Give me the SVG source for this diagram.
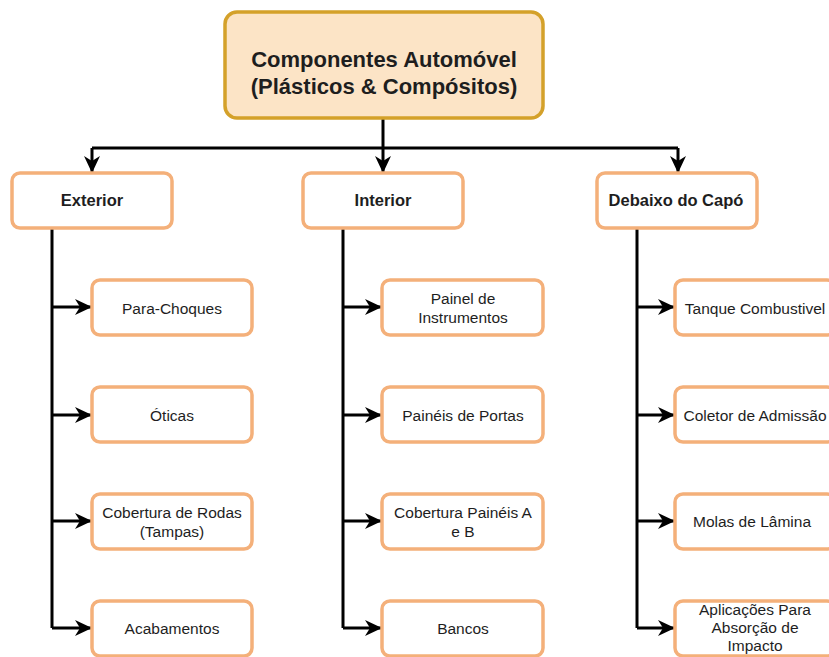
<svg xmlns="http://www.w3.org/2000/svg" width="829" height="657" viewBox="0 0 829 657">
<defs>
<marker id="arr" markerUnits="userSpaceOnUse" markerWidth="20" markerHeight="20" refX="16" refY="8" orient="auto">
<path d="M0,0 L17,8 L0,16 L5,8 Z" fill="#000"/>
</marker>
<style>
.root{fill:#fce4c6;stroke:#d4a12a;stroke-width:3.5}
.box{fill:#fff;stroke:#f4b07a;stroke-width:3.5}
.t{font-family:"Liberation Sans",Arial,sans-serif;fill:#1e1e1e;text-anchor:middle}
.rt{font-size:22px;font-weight:bold}
.l1{font-size:16.5px;font-weight:bold}
.c{font-size:15.5px}
.con{fill:none;stroke:#000;stroke-width:3}
</style>
</defs>
<rect width="829" height="657" fill="#fff"/>
<g id="connectors">
<path class="con" d="M383,118 V148"/>
<path class="con" d="M92,148 H678"/>
<path class="con" d="M92,148 V172" marker-end="url(#arr)"/>
<path class="con" d="M383,148 V172" marker-end="url(#arr)"/>
<path class="con" d="M678,148 V172" marker-end="url(#arr)"/>
<path class="con" d="M52,228 V628"/>
<path class="con" d="M52,307 H91" marker-end="url(#arr)"/>
<path class="con" d="M52,415 H91" marker-end="url(#arr)"/>
<path class="con" d="M52,521 H91" marker-end="url(#arr)"/>
<path class="con" d="M52,628 H91" marker-end="url(#arr)"/>
<path class="con" d="M343,228 V628"/>
<path class="con" d="M343,307 H381" marker-end="url(#arr)"/>
<path class="con" d="M343,415 H381" marker-end="url(#arr)"/>
<path class="con" d="M343,521 H381" marker-end="url(#arr)"/>
<path class="con" d="M343,628 H381" marker-end="url(#arr)"/>
<path class="con" d="M637,228 V628"/>
<path class="con" d="M637,307 H674" marker-end="url(#arr)"/>
<path class="con" d="M637,415 H674" marker-end="url(#arr)"/>
<path class="con" d="M637,521 H674" marker-end="url(#arr)"/>
<path class="con" d="M637,628 H674" marker-end="url(#arr)"/>
</g>
<g id="root">
<rect class="root" x="225" y="12" width="318" height="106" rx="12"/>
<text class="t rt" x="384" y="67">Componentes Automóvel</text>
<text class="t rt" x="384" y="94">(Plásticos &amp; Compósitos)</text>
</g>
<g id="exterior">
<rect class="box" x="12" y="173" width="160" height="55" rx="8"/>
<text class="t l1" x="92" y="206">Exterior</text>
</g>
<g id="interior">
<rect class="box" x="303" y="173" width="160" height="55" rx="8"/>
<text class="t l1" x="383" y="206">Interior</text>
</g>
<g id="debaixo">
<rect class="box" x="597" y="173" width="160" height="55" rx="8"/>
<text class="t l1" x="676" y="206">Debaixo do Capó</text>
</g>
<g id="parachoques">
<rect class="box" x="92" y="280" width="160" height="55" rx="8"/>
<text class="t c" x="172" y="314">Para-Choques</text>
</g>
<g id="oticas">
<rect class="box" x="92" y="387" width="160" height="55" rx="8"/>
<text class="t c" x="172" y="421">Óticas</text>
</g>
<g id="cobertura-rodas">
<rect class="box" x="92" y="494" width="160" height="55" rx="8"/>
<text class="t c" x="172" y="518">Cobertura de Rodas</text>
<text class="t c" x="172" y="537">(Tampas)</text>
</g>
<g id="acabamentos">
<rect class="box" x="92" y="601" width="160" height="55" rx="8"/>
<text class="t c" x="172" y="634">Acabamentos</text>
</g>
<g id="painel">
<rect class="box" x="382" y="280" width="161" height="55" rx="8"/>
<text class="t c" x="463" y="304">Painel de</text>
<text class="t c" x="463" y="323">Instrumentos</text>
</g>
<g id="paineis-portas">
<rect class="box" x="382" y="387" width="161" height="55" rx="8"/>
<text class="t c" x="463" y="421">Painéis de Portas</text>
</g>
<g id="cobertura-paineis">
<rect class="box" x="382" y="494" width="161" height="55" rx="8"/>
<text class="t c" x="463" y="518">Cobertura Painéis A</text>
<text class="t c" x="463" y="537">e B</text>
</g>
<g id="bancos">
<rect class="box" x="382" y="601" width="161" height="55" rx="8"/>
<text class="t c" x="463" y="634">Bancos</text>
</g>
<g id="tanque">
<rect class="box" x="675" y="280" width="160" height="55" rx="8"/>
<text class="t c" x="755" y="314">Tanque Combustivel</text>
</g>
<g id="coletor">
<rect class="box" x="675" y="387" width="160" height="55" rx="8"/>
<text class="t c" x="755" y="421">Coletor de Admissão</text>
</g>
<g id="molas">
<rect class="box" x="675" y="494" width="160" height="55" rx="8"/>
<text class="t c" x="752" y="527">Molas de Lâmina</text>
</g>
<g id="aplicacoes">
<rect class="box" x="675" y="601" width="160" height="55" rx="8"/>
<text class="t c" x="755" y="615">Aplicações Para</text>
<text class="t c" x="755" y="633">Absorção de</text>
<text class="t c" x="755" y="651">Impacto</text>
</g>
</svg>
